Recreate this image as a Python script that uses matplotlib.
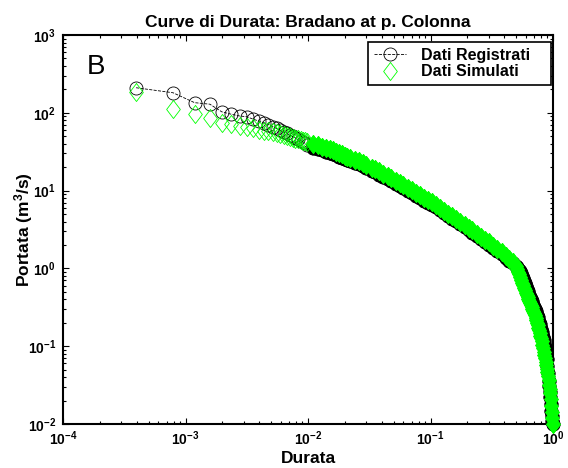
import math
import matplotlib
matplotlib.use('Agg')
import matplotlib.pyplot as plt
from matplotlib.ticker import LogLocator, FuncFormatter, NullFormatter

plt.rcParams['font.family'] = ['Liberation Sans', 'DejaVu Sans']
plt.rcParams['font.weight'] = 'bold'
plt.rcParams['mathtext.fontset'] = 'custom'
plt.rcParams['mathtext.default'] = 'regular'
plt.rcParams['mathtext.rm'] = 'Liberation Sans:bold'
plt.rcParams['mathtext.bf'] = 'Liberation Sans:bold'
plt.rcParams['mathtext.it'] = 'Liberation Sans:bold'

# first ranks of the duration curve (markers still separate)
durata_top = [0.000395, 0.000791, 0.001186, 0.001581, 0.001976, 0.002372, 0.002767,
              0.003162, 0.003557, 0.003953, 0.004348, 0.004743, 0.005138, 0.005534,
              0.005929, 0.006324, 0.006719, 0.007115, 0.007510, 0.007905, 0.008300,
              0.008696, 0.009091, 0.009486, 0.009881]
registrati_top = [210, 181, 135, 129, 103, 95.7, 91, 89, 83, 78.5, 74.4, 70.5, 66.5,
                  63.0, 59.7, 56.8, 54.2, 51.8, 49.6, 47.4, 45.4, 43.5, 41.9, 40.4, 39.0]
simulati_top = [187, 111, 95.7, 86.5, 74.6, 71.1, 67.6, 65.1, 63.2, 61, 59, 57.5, 56,
                55, 53.5, 51.9, 50.4, 48.9, 47.7, 46.6, 45.6, 44.7, 43.9, 43.3, 42.6]

# rest of the curve (markers overlap into a band)
durata = [0.011, 0.012, 0.013, 0.014, 0.015, 0.016, 0.017, 0.018, 0.019, 0.020, 0.021,
          0.022, 0.024, 0.026, 0.028, 0.030, 0.033, 0.035, 0.038, 0.041, 0.045, 0.048,
          0.052, 0.056, 0.060, 0.065, 0.070, 0.076, 0.082, 0.089, 0.096, 0.103, 0.11,
          0.12, 0.13, 0.14, 0.15, 0.16, 0.175, 0.19, 0.205, 0.22, 0.24, 0.26, 0.28,
          0.30, 0.325, 0.35, 0.38, 0.41, 0.44, 0.47,
          0.50, 0.51, 0.52, 0.53, 0.54, 0.55, 0.56, 0.57, 0.58, 0.59, 0.60, 0.61, 0.62,
          0.63, 0.64, 0.65, 0.66, 0.67, 0.68, 0.69, 0.70, 0.71, 0.72, 0.73, 0.74, 0.75,
          0.76, 0.77, 0.78, 0.79, 0.80, 0.81, 0.82, 0.83, 0.84, 0.85, 0.86, 0.87, 0.88,
          0.89, 0.90, 0.91, 0.92, 0.93, 0.94, 0.95, 0.96, 0.97, 0.98, 0.99, 1.00]
registrati = [35.4, 34.2, 33.0, 31.8, 30.6, 29.5, 28.3, 27.3, 26.3, 25.4, 25.0, 24.2,
              22.8, 21.7, 20.6, 19.7, 18.1, 17.2, 16.1, 15.0, 13.9, 13.2, 12.3, 11.5,
              10.8, 9.97, 9.33, 8.62, 8.01, 7.42, 6.91, 6.55, 6.10, 5.55, 5.08, 4.70,
              4.36, 4.06, 3.68, 3.36, 3.09, 2.86, 2.59, 2.36, 2.16, 2.01, 1.82, 1.67,
              1.52, 1.37, 1.26, 1.16,
              1.06, 1.035, 0.997, 0.962, 0.917, 0.870, 0.809, 0.748, 0.694, 0.641, 0.594,
              0.546, 0.511, 0.482, 0.453, 0.427, 0.406, 0.385, 0.364, 0.343, 0.323,
              0.304, 0.287, 0.270, 0.253, 0.235, 0.220, 0.206, 0.194, 0.179, 0.167,
              0.154, 0.141, 0.130, 0.119, 0.109, 0.0985, 0.0890, 0.0785, 0.0679, 0.0560,
              0.0450, 0.0360, 0.0305, 0.026, 0.022, 0.018, 0.0148, 0.0125, 0.0108, 0.0100]
simulati = [39.3, 38.0, 36.7, 35.3, 34.0, 32.8, 31.4, 30.3, 29.2, 28.2, 27.3, 26.5,
            24.9, 23.7, 22.5, 21.5, 19.8, 18.8, 17.6, 16.4, 15.2, 14.4, 13.4, 12.6,
            11.8, 10.9, 10.2, 9.42, 8.75, 8.11, 7.55, 7.05, 6.57, 5.97, 5.47, 5.06,
            4.69, 4.37, 3.96, 3.62, 3.33, 3.08, 2.79, 2.54, 2.33, 2.16, 1.96, 1.80,
            1.63, 1.46, 1.32, 1.20,
            1.074, 0.989, 0.910, 0.838, 0.771, 0.710, 0.658, 0.608, 0.564, 0.521, 0.483,
            0.455, 0.429, 0.405, 0.381, 0.359, 0.338, 0.319, 0.301, 0.284, 0.267, 0.249,
            0.232, 0.216, 0.201, 0.187, 0.173, 0.160, 0.149, 0.137, 0.127, 0.115, 0.104,
            0.0942, 0.0851, 0.0771, 0.0697, 0.0630, 0.0569, 0.0515, 0.0466, 0.0411,
            0.0363, 0.0321, 0.0283, 0.0250, 0.0207, 0.0172, 0.0143, 0.0119, 0.0100]

green = (0, 1, 0)
diamond = [(0, 1), (0.76, 0), (0, -1), (-0.76, 0), (0, 1)]

fig = plt.figure(figsize=(5.68, 4.68), dpi=100)
ax = fig.add_axes([63 / 568, 44 / 468, 490 / 568, 389 / 468])

x_all = durata_top + durata
ax.plot(x_all, registrati_top + registrati, '--', color='k', lw=0.6, marker='o', ms=9.4,
        mfc='none', mec='k', mew=0.6, label='Dati Registrati', clip_on=False, zorder=3)
ax.plot(durata, registrati, ls='none', marker='o', ms=9.4, mfc='k', mec='k', mew=0.6,
        clip_on=False, zorder=3)
ax.plot(x_all, simulati_top + simulati, ls='none', marker=diamond, ms=13, mfc='none',
        mec=green, mew=0.6, label='Dati Simulati', clip_on=False, zorder=3)
ax.plot(durata, simulati, ls='none', marker=diamond, ms=13, mfc=green, mec=green,
        mew=0.6, clip_on=False, zorder=3)

ax.set_xscale('log')
ax.set_yscale('log')
ax.set_xlim(1e-4, 1e0)
ax.set_ylim(1e-2, 1e3)

fmt = FuncFormatter(lambda v, p: r'$10^{%d}$' % round(math.log10(v)))
for axis in (ax.xaxis, ax.yaxis):
    axis.set_major_locator(LogLocator(base=10, numticks=10))
    axis.set_minor_locator(LogLocator(base=10, subs=range(2, 10), numticks=10))
    axis.set_major_formatter(fmt)
    axis.set_minor_formatter(NullFormatter())
ax.tick_params(which='both', direction='in', top=True, right=True, width=0.8,
               labelsize=10)
ax.tick_params(which='major', length=4)
ax.tick_params(which='minor', length=2)
ax.tick_params(axis='x', pad=4)
ax.tick_params(axis='y', pad=5)
for lab in ax.get_xticklabels() + ax.get_yticklabels():
    lab.set_fontweight('bold')
for s in ax.spines.values():
    s.set_linewidth(1.5)

ax.set_title('Curve di Durata: Bradano at p. Colonna', fontsize=12.5, fontweight='bold',
             pad=6)
ax.set_xlabel('Durata', fontsize=12.5, fontweight='bold', labelpad=2)
ax.set_ylabel('Portata (m$^3$/s)', fontsize=12.5, fontweight='bold')
ax.yaxis.set_label_coords(-0.058, 0.5)
ax.text(0.049, 0.9, 'B', transform=ax.transAxes, fontsize=20, fontweight='normal',
        ha='left', va='baseline')

leg = ax.legend(loc='upper right', bbox_to_anchor=(0.6224, 0.0, 0.3735, 0.982),
                mode='expand', borderaxespad=0,
                prop={'weight': 'bold', 'size': 11.5}, fancybox=False, framealpha=1,
                edgecolor='k', handlelength=2.0, borderpad=0.35, labelspacing=0.1,
                handletextpad=1.0)
leg.get_frame().set_linewidth(1.2)

fig.savefig('out.png', dpi=100)
